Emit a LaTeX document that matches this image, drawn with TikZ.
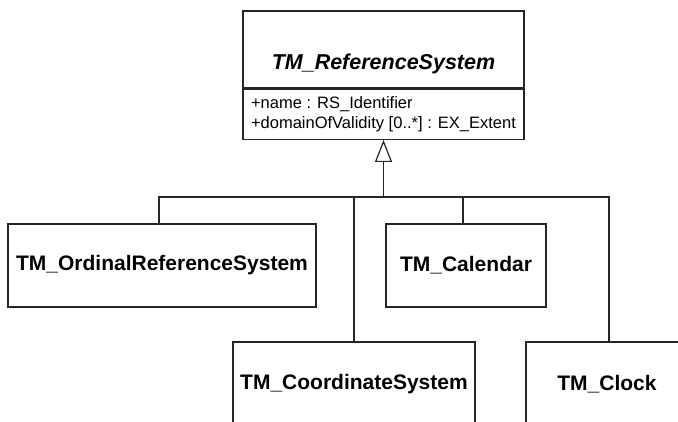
\documentclass[tikz,border=0pt]{standalone}
\usepackage{fontspec}
\setmainfont{Liberation Sans}
\usetikzlibrary{arrows.meta}
\begin{document}
\begin{tikzpicture}[x=1pt,y=-1pt,
  cls/.style={draw=black!85, line width=1.3pt, fill=white, inner sep=0pt,
    font=\fontsize{21}{24}\selectfont\bfseries},
  conn/.style={draw=black!85, line width=1.2pt},
  gen/.style={-{Triangle[open, width=17pt, length=22pt]}}]
\clip (0,0) rectangle (678,421);
\fill[white] (0,0) rectangle (678,421);
% parent class
\node[cls, minimum width=281pt, minimum height=77pt,
  font=\fontsize{21.5}{24}\selectfont\bfseries\itshape,
  text height=44pt, text depth=5pt] (ref) at (383.5,49.5) {TM\_ReferenceSystem};
\node[cls, font=\fontsize{16.5}{20}\selectfont, align=left,
  minimum width=281pt, minimum height=50pt, anchor=north] (attr) at (ref.south)
  {+name : RS\_Identifier\\+domainOfValidity [0..*] : EX\_Extent};
% child classes
\node[cls, minimum width=308pt, minimum height=83pt] (ord) at (162,265.5) {TM\_OrdinalReferenceSystem};
\node[cls, minimum width=160pt, minimum height=83pt] (cal) at (466,265.5) {TM\_Calendar};
\node[cls, minimum width=242pt, minimum height=84pt] (coord) at (354,384) {TM\_CoordinateSystem};
\node[cls, minimum width=162pt, minimum height=84pt] (clock) at (607,384) {TM\_Clock};
% generalization
\coordinate (j) at (383.5,197);
\draw[conn, gen] (j) -- (attr.south);
\draw[conn] ([xshift=-3pt]ord.north) |- (j);
\draw[conn] (coord.north) |- (j);
\draw[conn] ([xshift=-3pt]cal.north) |- (j);
\draw[conn] ([xshift=2pt]clock.north) |- (j);
\end{tikzpicture}
\end{document}
